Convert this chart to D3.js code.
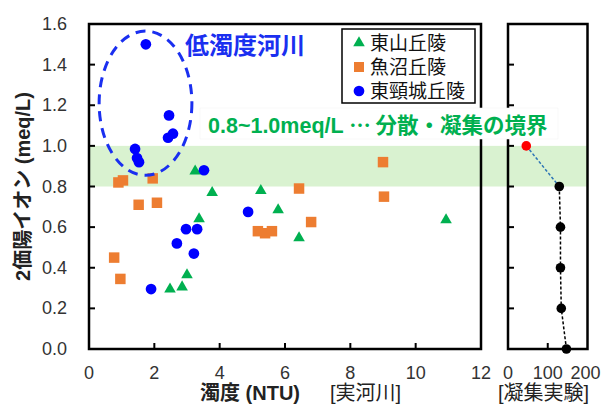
<!DOCTYPE html>
<html lang="ja">
<head>
<meta charset="UTF-8">
<title>2価陽イオンと濁度</title>
<script src="https://d3js.org/d3.v7.min.js"></script>
<style>
	body{margin:0;background:#fff;}
	text{font-family:"Liberation Sans",Arial,"Noto Sans CJK JP",sans-serif;}
</style>
</head>
<body>
<script>
	// 実河川 (濁度 NTU, 2価陽イオン meq/L)
	var higashiyamaX = [3.25, 3.77, 5.26, 5.79, 3.37, 3.0, 2.48, 2.85, 6.43, 10.93];
	var higashiyamaY = [0.875, 0.77, 0.78, 0.685, 0.64, 0.365, 0.295, 0.305, 0.547, 0.635];
	var uonumaX = [0.9, 1.04, 1.95, 1.52, 2.08, 0.77, 0.96, 5.17, 5.39, 5.6, 6.43, 6.8, 9.0, 9.03];
	var uonumaY = [0.82, 0.83, 0.84, 0.71, 0.72, 0.45, 0.345, 0.58, 0.57, 0.58, 0.79, 0.625, 0.92, 0.75];
	var kubikiX = [1.74, 2.45, 2.42, 2.57, 1.41, 1.47, 1.53, 3.52, 1.9, 2.69, 2.97, 3.31, 3.21, 4.87];
	var kubikiY = [1.50, 1.15, 1.04, 1.06, 0.985, 0.94, 0.92, 0.88, 0.295, 0.52, 0.59, 0.59, 0.47, 0.675];
	var seriesNames = ["東山丘陵", "魚沼丘陵", "東頸城丘陵"];

	// 凝集実験
	var expX = [46, 129, 132, 132, 134, 147];
	var expY = [1.0, 0.8, 0.6, 0.4, 0.2, 0.0];

	var xTicks = [0, 2, 4, 6, 8, 10, 12];
	var yTicks = [0, 0.2, 0.4, 0.6, 0.8, 1.0, 1.2, 1.4, 1.6];
	var xrTicks = [0, 100, 200];
	var band = [0.8, 1.0];

	var W = 602, H = 405;
	var svg = d3.select("body").append("svg").attr("width", W).attr("height", H);

	var x = d3.scaleLinear().domain([0, 12]).range([89, 481]);
	var y = d3.scaleLinear().domain([0, 1.6]).range([349, 24]);
	var xr = d3.scaleLinear().domain([0, 200]).range([508, 587.5]);

	var green = "#00b050", orange = "#ed7d31", blue = "#0000ff";

	// 境界の帯
	svg.append("rect")
		.attr("x", x(0)).attr("width", xr(200) - x(0))
		.attr("y", y(band[1])).attr("height", y(band[0]) - y(band[1]))
		.attr("fill", "#d9f2d0");

	// 枠と目盛り
	function frame(xs){
		var x0 = xs.range()[0], x1 = xs.range()[1];
		svg.append("rect")
			.attr("x", x0).attr("y", y(1.6)).attr("width", x1 - x0).attr("height", y(0) - y(1.6))
			.attr("fill", "none").attr("stroke", "#000").attr("stroke-width", 2.5);
		svg.selectAll(null).data(yTicks.slice(1, -1)).enter().append("line")
			.attr("x1", x0).attr("x2", x0 + 6)
			.attr("y1", function(d){ return y(d); }).attr("y2", function(d){ return y(d); })
			.attr("stroke", "#000").attr("stroke-width", 2);
	}
	frame(x);
	frame(xr);

	svg.selectAll(null).data(xTicks.slice(1, -1)).enter().append("line")
		.attr("x1", function(d){ return x(d); }).attr("x2", function(d){ return x(d); })
		.attr("y1", y(0)).attr("y2", y(0) - 6)
		.attr("stroke", "#000").attr("stroke-width", 2);
	svg.append("line")
		.attr("x1", xr(100)).attr("x2", xr(100)).attr("y1", y(0)).attr("y2", y(0) - 6)
		.attr("stroke", "#000").attr("stroke-width", 2);

	// 目盛りラベル
	svg.selectAll(null).data(yTicks).enter().append("text")
		.attr("x", x(0) - 22).attr("y", function(d){ return y(d) + 6; })
		.attr("text-anchor", "end").attr("font-size", 18).attr("fill", "#333")
		.text(function(d){ return d.toFixed(1); });
	svg.selectAll(null).data(xTicks).enter().append("text")
		.attr("x", function(d){ return x(d); }).attr("y", 379)
		.attr("text-anchor", "middle").attr("font-size", 18).attr("fill", "#333")
		.text(function(d){ return d; });
	svg.selectAll(null).data(xrTicks).enter().append("text")
		.attr("x", function(d){ return xr(d) + (d == 200 ? -2 : 0); }).attr("y", 379)
		.attr("text-anchor", "middle").attr("font-size", 18).attr("fill", "#333")
		.text(function(d){ return d; });

	// 軸タイトル
	svg.append("text")
		.attr("transform", "translate(30," + y(0.8) + ") rotate(-90)")
		.attr("text-anchor", "middle").attr("font-size", 20).attr("font-weight", "bold").attr("fill", "#222")
		.text("2価陽イオン (meq/L)");
	svg.append("text").attr("x", 200).attr("y", 400)
		.attr("font-size", 20).attr("font-weight", "bold").attr("fill", "#222")
		.text("濁度 (NTU)");
	svg.append("text").attr("x", 330).attr("y", 400)
		.attr("font-size", 20).attr("fill", "#222")
		.text("[実河川]");
	svg.append("text").attr("x", 498).attr("y", 400)
		.attr("font-size", 20).attr("fill", "#222")
		.text("[凝集実験]");

	// 散布点
	function scatter(xs, ys, type, size, color){
		svg.append("g").selectAll("path").data(d3.zip(xs, ys)).enter().append("path")
			.attr("transform", function(d){ return "translate(" + x(d[0]) + "," + y(d[1]) + ")"; })
			.attr("d", d3.symbol().type(type).size(size))
			.attr("fill", color);
	}
	scatter(uonumaX, uonumaY, d3.symbolSquare, 110, orange);
	scatter(higashiyamaX, higashiyamaY, d3.symbolTriangle, 58, green);
	scatter(kubikiX, kubikiY, d3.symbolCircle, 90, blue);

	// 凝集実験の線と点
	var exp = d3.zip(expX, expY);
	var line = d3.line().x(function(d){ return xr(d[0]); }).y(function(d){ return y(d[1]); });
	svg.append("path").attr("d", line(exp.slice(0, 2)))
		.attr("fill", "none").attr("stroke", "#2e75b6").attr("stroke-width", 1.5).attr("stroke-dasharray", "3,2");
	svg.append("path").attr("d", line(exp.slice(1)))
		.attr("fill", "none").attr("stroke", "#000").attr("stroke-width", 1.5).attr("stroke-dasharray", "3,2");
	svg.selectAll(null).data(exp).enter().append("circle")
		.attr("cx", function(d){ return xr(d[0]); }).attr("cy", function(d){ return y(d[1]); })
		.attr("r", 4.8)
		.attr("fill", function(d, i){ return i == 0 ? "#ff0000" : "#000"; });

	// 低濁度河川の楕円
	var ell = {cx: 1.73, cy: 1.21, rx: 1.42, ry: 0.355};
	svg.append("ellipse")
		.attr("cx", x(ell.cx)).attr("cy", y(ell.cy))
		.attr("rx", x(ell.rx) - x(0)).attr("ry", y(0) - y(ell.ry))
		.attr("fill", "none").attr("stroke", "#1a2ff0").attr("stroke-width", 3)
		.attr("stroke-dasharray", "10,7");
	svg.append("text").attr("x", 185).attr("y", 54)
		.attr("font-size", 24).attr("font-weight", "bold").attr("fill", "#1a2ff0")
		.text("低濁度河川");

	// 境界ラベル
	svg.append("rect").attr("x", 200).attr("y", 108).attr("width", 358).attr("height", 31)
		.attr("fill", "#fff").attr("stroke", "#f2f2f2").attr("stroke-width", 0.5);
	var lab = svg.append("text").attr("x", 208).attr("y", 133)
		.attr("font-size", 21.5).attr("font-weight", "bold").attr("fill", green);
	lab.append("tspan").text("0.8~1.0meq/L ");
	lab.append("tspan").style("font-family", "'Noto Sans CJK JP',sans-serif").text("⋯ 分散・凝集の境界");

	// 凡例
	var lg = svg.append("g").attr("transform", "translate(342,29)");
	lg.append("rect").attr("width", 133).attr("height", 74)
		.attr("fill", "#fff").attr("stroke", "#000").attr("stroke-width", 1.5);
	var syms = [d3.symbolTriangle, d3.symbolSquare, d3.symbolCircle];
	var sizes = [58, 100, 90];
	var cols = [green, orange, blue];
	seriesNames.forEach(function(name, i){
		lg.append("path").attr("transform", "translate(17," + (14 + i * 24) + ")")
			.attr("d", d3.symbol().type(syms[i]).size(sizes[i])).attr("fill", cols[i]);
		lg.append("text").attr("x", 28).attr("y", 21 + i * 24)
			.attr("font-size", 19).attr("fill", "#111").text(name);
	});
</script>
</body>
</html>
